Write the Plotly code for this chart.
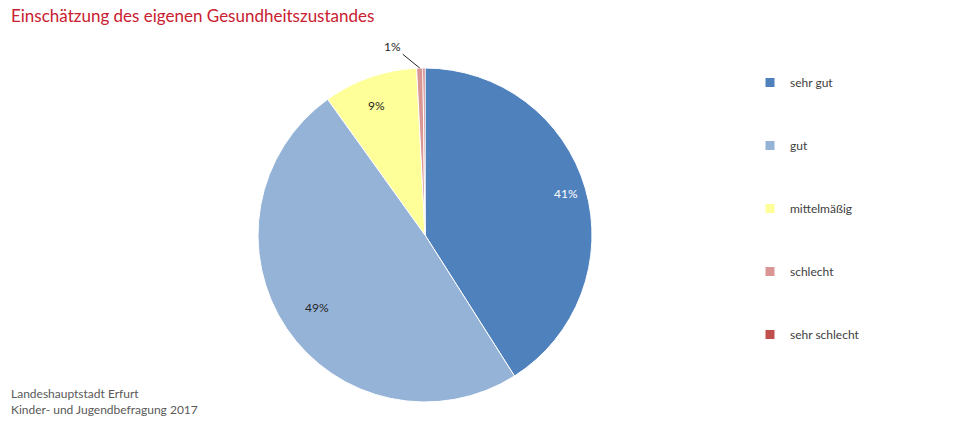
import math
import plotly.graph_objects as go

# ---- data ----
categories = ["sehr gut", "gut", "mittelmäßig", "schlecht", "sehr schlecht"]
values = [41.0, 49.1, 9.1, 0.6, 0.2]
colors = ["#4F81BD", "#95B3D7", "#FFFF99", "#D99694", "#C0504D"]
label_colors = ["white", "#262626", "#262626", "#262626", "#262626"]
title_text = "Einschätzung des eigenen Gesundheitszustandes"
source_lines = ["Landeshauptstadt Erfurt", "Kinder- und Jugendbefragung 2017"]

W, H = 960, 425

def px_x(x):
    return x / W

def px_y(y):
    return 1 - y / H

dom_x = [px_x(258), px_x(592)]
dom_y = [px_y(402), px_y(68)]

fig = go.Figure()
fig.add_trace(go.Pie(
    labels=categories, values=values, sort=False, direction="clockwise", rotation=0,
    marker=dict(colors=colors, line=dict(color="white", width=1)),
    textinfo="none", hoverinfo="label+percent", showlegend=False,
    domain=dict(x=dom_x, y=dom_y),
))

# legend via dummy traces
for i, (c, col) in enumerate(zip(categories, colors)):
    fig.add_trace(go.Scatter(x=[None], y=[None], mode="markers", name=c,
                             legendgroup=f"g{i}",
                             marker=dict(symbol="square", size=9, color=col)))

# percentage labels computed from data
total = sum(values)
cx = (dom_x[0] + dom_x[1]) / 2
cy = (dom_y[0] + dom_y[1]) / 2
R_px = (dom_x[1] - dom_x[0]) * W / 2
annotations = []
cum = 0
for v, lc in zip(values, label_colors):
    frac = v / total
    mid = (cum + frac / 2) * 2 * math.pi
    cum += frac
    pct = round(frac * 100)
    if pct < 1:
        continue
    if frac >= 0.05:
        r = 0.88 * R_px
        annotations.append(dict(
            x=cx + r * math.sin(mid) / W, y=cy + r * math.cos(mid) / H,
            xref="paper", yref="paper", text=f"{pct}%", showarrow=False,
            font=dict(family="Lato", size=12, color=lc)))
    else:
        annotations.append(dict(
            x=cx + R_px * math.sin(mid) / W, y=cy + R_px * math.cos(mid) / H,
            xref="paper", yref="paper", text=f"{pct}%", showarrow=True,
            arrowhead=0, arrowwidth=1, arrowcolor="#262626", ax=-27, ay=-22,
            font=dict(family="Lato", size=12, color=lc)))

annotations.append(dict(x=px_x(9), y=px_y(16), xref="paper", yref="paper",
                        xanchor="left", yanchor="middle", text=title_text, showarrow=False,
                        font=dict(family="Lato", size=17, color="#C8202F")))
annotations.append(dict(x=px_x(9), y=px_y(401), xref="paper", yref="paper",
                        xanchor="left", yanchor="middle", align="left",
                        text="<br>".join(source_lines), showarrow=False,
                        font=dict(family="Lato", size=12, color="#595959")))

fig.update_layout(
    width=W, height=H, margin=dict(l=0, r=0, t=0, b=0),
    paper_bgcolor="white", plot_bgcolor="white",
    xaxis=dict(visible=False), yaxis=dict(visible=False),
    showlegend=True,
    legend=dict(x=px_x(750), y=px_y(68), xanchor="left", yanchor="top",
                tracegroupgap=44, font=dict(family="Lato", size=12, color="#404040"),
                bgcolor="rgba(0,0,0,0)"),
    annotations=annotations,
)

fig.write_html("out.html", config={"displayModeBar": False},
               post_script="document.body.style.margin='0px';")
